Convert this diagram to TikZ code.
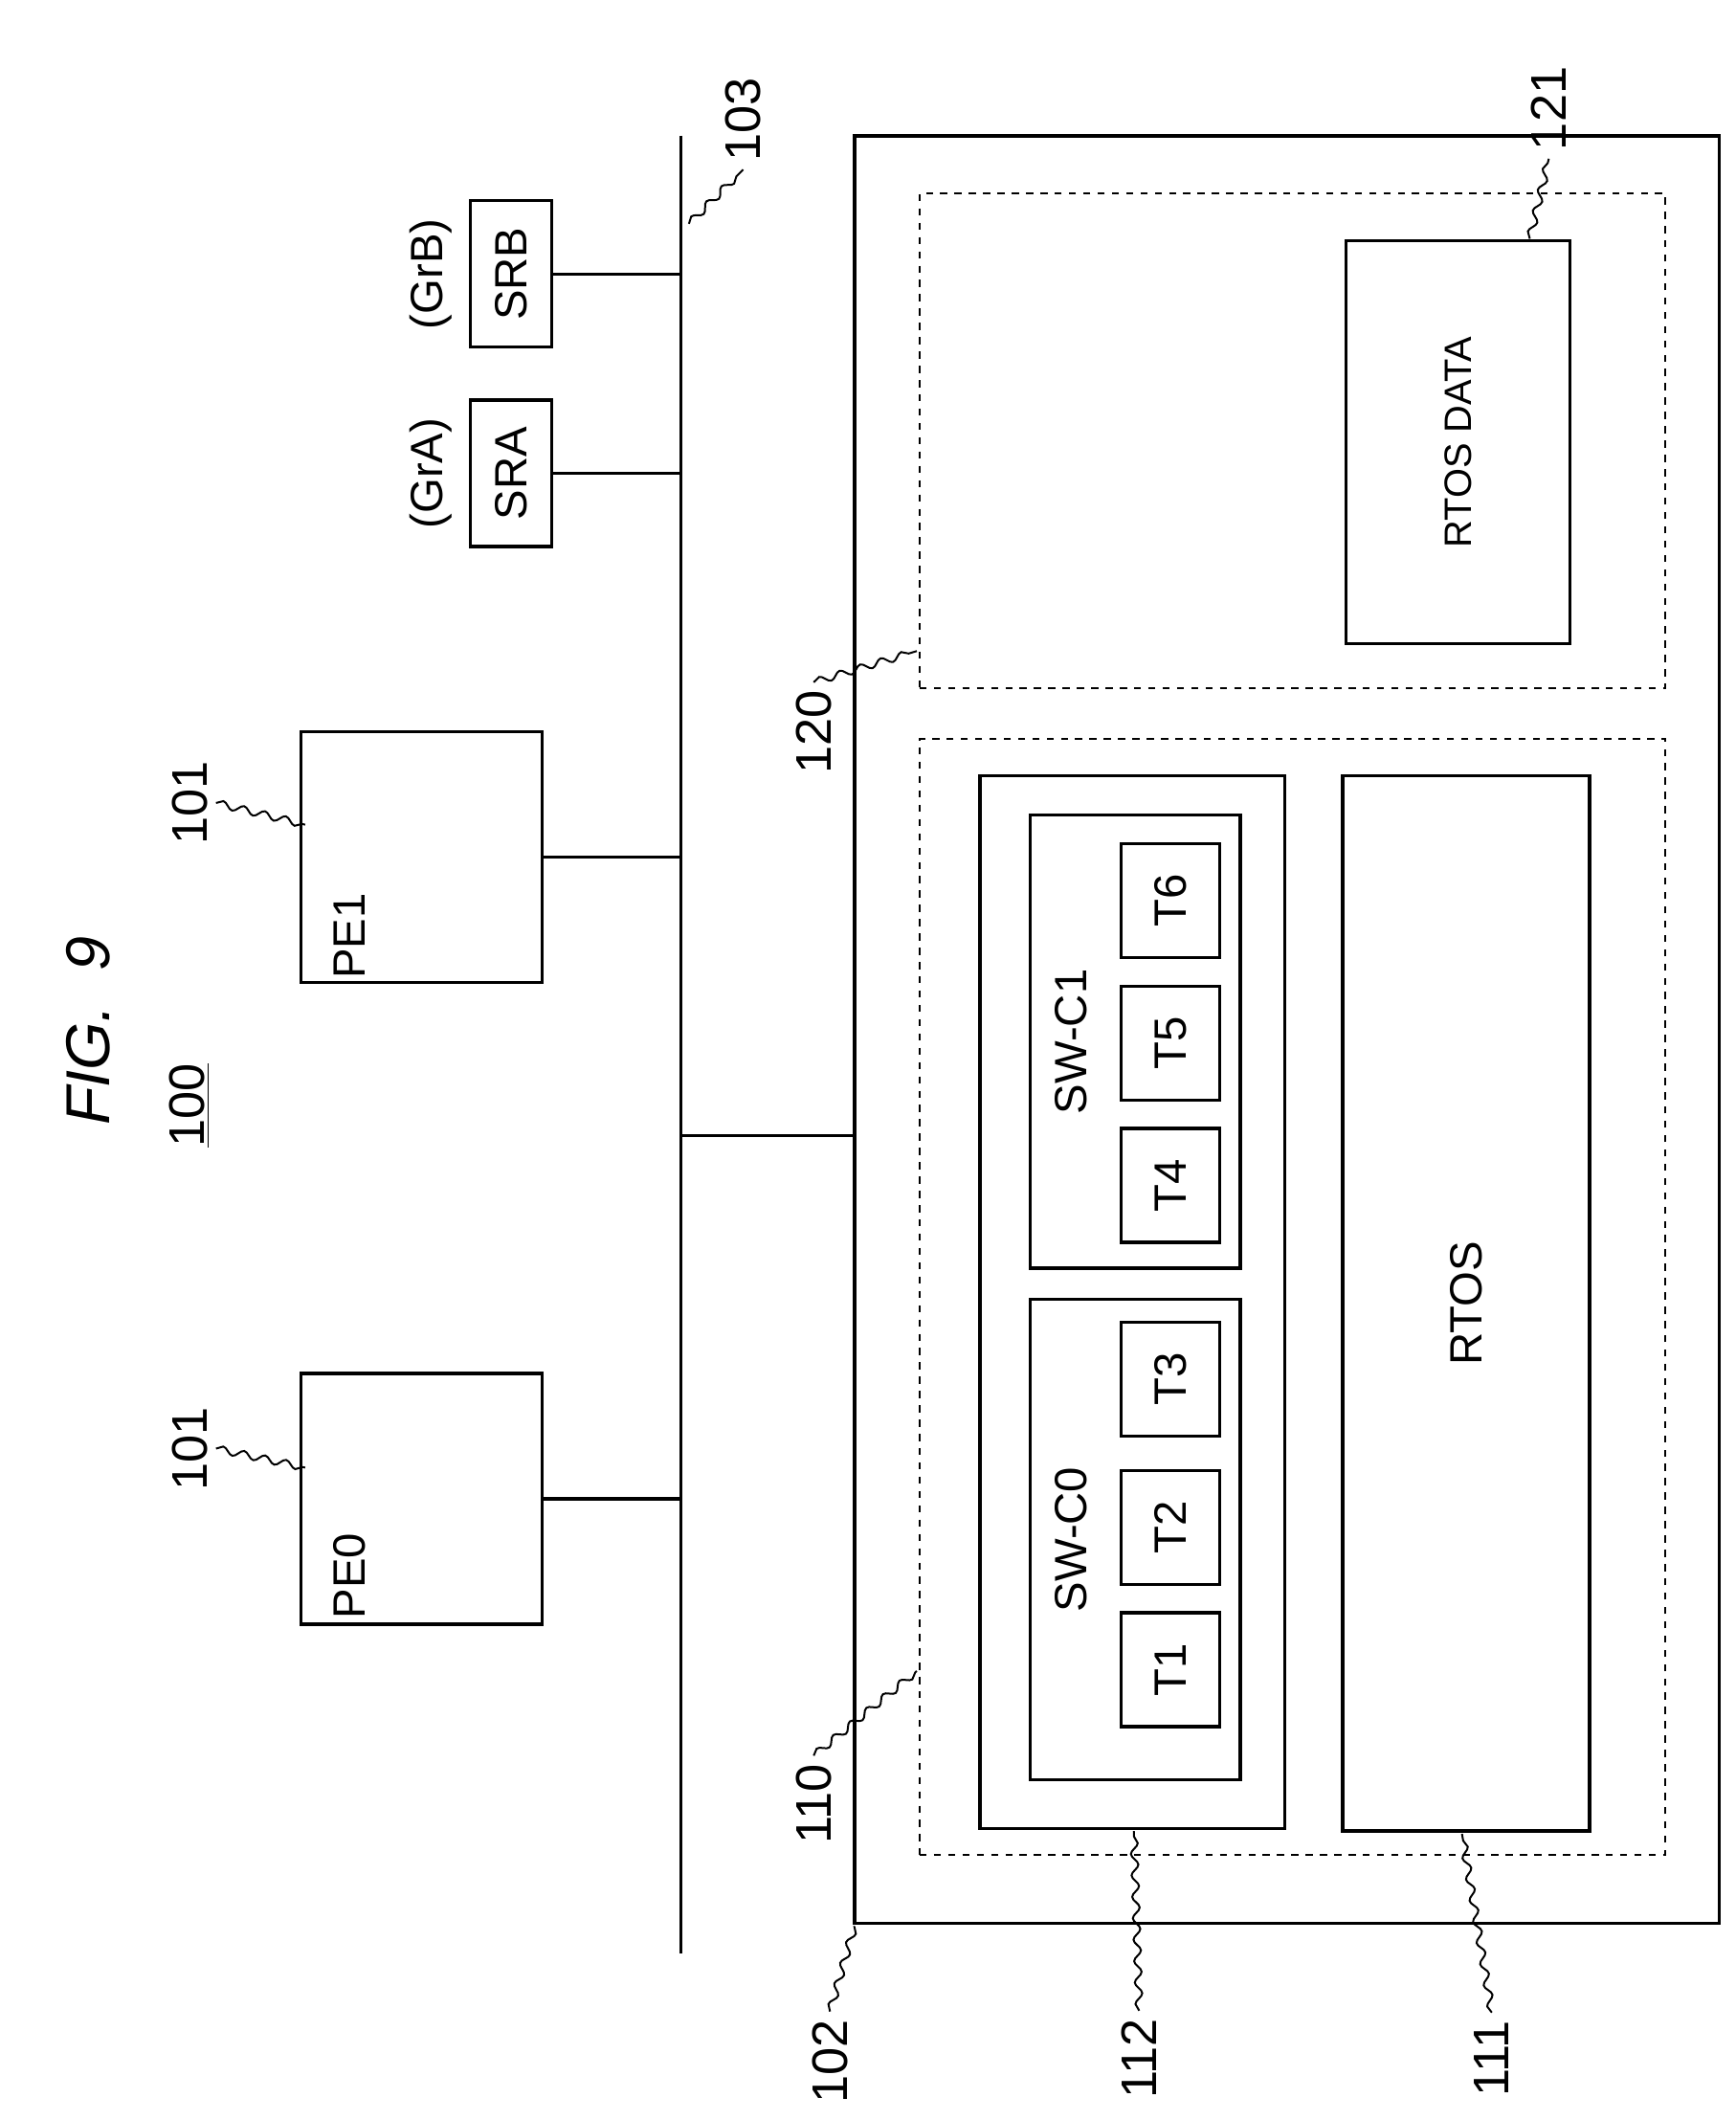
\documentclass[tikz,border=0pt]{standalone}
\usepackage{fontspec}
\setmainfont{Liberation Sans}
\usetikzlibrary{decorations.pathmorphing}
\tikzset{
  box/.style={draw, line width=1.3pt, inner sep=0pt},
  dbox/.style={draw, dashed, line width=1pt, inner sep=0pt},
  txt/.style={rotate=90, font=\fontsize{19}{20}\selectfont},
  num/.style={rotate=90, font=\fontsize{21}{22}\selectfont},
  lead/.style={line width=0.8pt, decorate, decoration={snake, amplitude=1.5pt, segment length=9pt}},
}
\begin{document}
\begin{tikzpicture}[x=0.02cm, y=-0.02cm]
        \useasboundingbox (0,0) rectangle (1280,1563);
        % bus
        \coordinate (bt) at (502,100);
        \coordinate (bb) at (502,1440);
        \draw [line width=1.3pt] (bt) -- (bb);
        \node [num] (l103) at (548,88) {103};
        \draw [lead] (508,165) -- (l103.west);
        % processors and semaphore registers
        \node [box, minimum width=3.56cm, minimum height=3.7cm] (pe0) at (311,1105) {};
        \node [box, minimum width=3.56cm, minimum height=3.7cm] (pe1) at (311,632) {};
        \node [txt] at (258,1162) {PE0};
        \node [txt] at (258,690) {PE1};
        \node [box, minimum width=1.2cm, minimum height=2.16cm] (sra) at (377,349) {};
        \node [box, minimum width=1.2cm, minimum height=2.16cm] (srb) at (377,202) {};
        \node [txt] at (sra) {SRA};
        \node [txt] at (srb) {SRB};
        \node [txt] at (318,349) {(GrA)};
        \node [txt] at (318,202) {(GrB)};
        \draw [line width=1.3pt] (pe0.east) -- (pe0.east -| bt);
        \draw [line width=1.3pt] (pe1.east) -- (pe1.east -| bt);
        \draw [line width=1.3pt] (sra.east) -- (sra.east -| bt);
        \draw [line width=1.3pt] (srb.east) -- (srb.east -| bt);
        \node [num] (l101a) at (140,1068) {101};
        \node [num] (l101b) at (140,592) {101};
        \draw [lead] (l101a.south) -- (225,1082);
        \draw [lead] (l101b.south) -- (225,608);
        % memory
        \node [box, minimum width=12.76cm, minimum height=26.36cm] (mem) at (949,759) {};
        \draw [line width=1.3pt] (502,837) -- (502,837 -| mem.west);
        \node [dbox, minimum width=11cm, minimum height=16.46cm] (d110) at (953,956) {};
        \node [dbox, minimum width=11cm, minimum height=7.3cm] (d120) at (953,325) {};
        \node [box, minimum width=3.3cm, minimum height=5.94cm] (rdata) at (1075,326) {};
        \node [rotate=90, font=\fontsize{16}{17}\selectfont] at (rdata) {RTOS DATA};
        \node [box, minimum width=4.5cm, minimum height=15.52cm] (sw) at (835,960) {};
        \node [box, minimum width=3.1cm, minimum height=6.68cm] (swc1) at (837,768) {};
        \node [box, minimum width=3.1cm, minimum height=7.08cm] (swc0) at (837,1135) {};
        \node [txt] at (790,768) {SW-C1};
        \node [txt] at (790,1135) {SW-C0};
        \foreach \n/\y in {6/664,5/769,4/874,3/1017,2/1126,1/1231}
          \node [box, minimum width=1.46cm, minimum height=1.68cm] (t\n) at (863,\y) {};
        \foreach \n in {1,...,6}
          \node [txt] at (t\n) {T\n};
        \node [box, minimum width=3.64cm, minimum height=15.56cm] (rtos) at (1081,961) {};
        \node [txt] at (rtos) {RTOS};
        % reference numerals
        \node [num] (l121) at (1142,80) {121};
        \draw [lead] (1128,176) -- (l121.west);
        \node [num] (l120) at (600,540) {120};
        \draw [lead] (l120.east) -- (676,480);
        \node [num] (l110) at (600,1330) {110};
        \draw [lead] (l110.east) -- (676,1232);
        \node [num] (l102) at (612,1520) {102};
        \draw [lead] (l102.east) -- (630,1420);
        \node [num] (l112) at (840,1518) {112};
        \draw [lead] (l112.east) -- (836,1350);
        \node [num] (l111) at (1100,1518) {111};
        \draw [lead] (l111.east) -- (1078,1352);
        % title
        \node [rotate=90, font=\itshape\fontsize{26}{28}\selectfont] (fig) at (65,760) {FIG.~~9};
        \node [num] (l100) at (140,815) {\underline{100}};
\end{tikzpicture}
\end{document}
